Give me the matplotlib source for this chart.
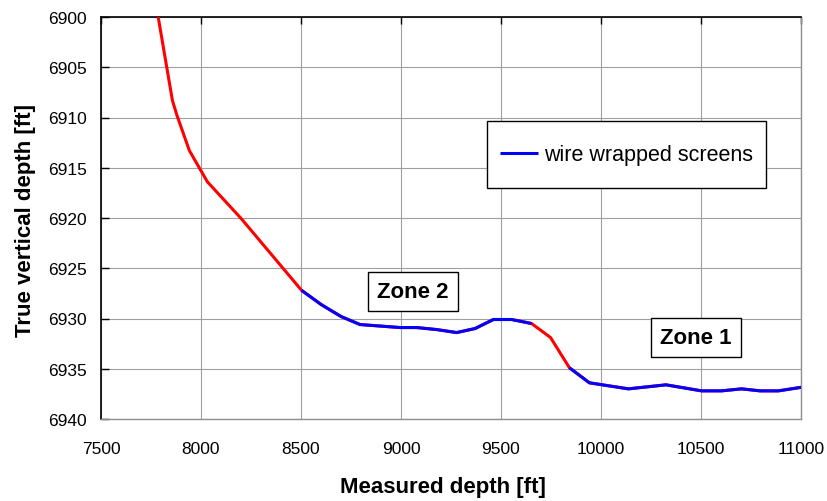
"""Well trajectory: true vertical depth vs measured depth with screened intervals."""

from __future__ import annotations

import matplotlib

matplotlib.use("Agg")

import matplotlib.pyplot as plt
import numpy as np
from matplotlib.patches import Rectangle

# survey stations
measured_depth = [7786, 7857, 7880, 7942, 8032, 8203, 8503, 8600, 8700, 8795,
                  8995, 9078, 9178, 9278, 9370, 9462, 9553, 9653, 9748, 9842,
                  9942, 10137, 10325, 10503, 10603, 10703, 10795, 10887, 11000]
true_vertical_depth = [6900.0, 6908.3, 6909.8, 6913.3, 6916.4, 6920.1, 6927.2,
                       6928.6, 6929.8, 6930.6, 6930.9, 6930.9, 6931.1, 6931.4,
                       6931.0, 6930.1, 6930.1, 6930.5, 6931.9, 6934.9, 6936.4,
                       6937.0, 6936.6, 6937.2, 6937.2, 6937.0, 6937.2, 6937.2,
                       6936.85]

# wire wrapped screen intervals (measured depth)
screen_top = [8503, 9842]
screen_bottom = [9653, 11000]

zone_names = ["Zone 2", "Zone 1"]
zone_md = [9060, 10475]
zone_tvd = [6927.3, 6931.9]

x_ticks = [7500, 8000, 8500, 9000, 9500, 10000, 10500, 11000]
y_ticks = [6900, 6905, 6910, 6915, 6920, 6925, 6930, 6935, 6940]

plt.rcParams["font.family"] = ["Liberation Sans", "DejaVu Sans"]


def plot_trajectory(save: str = "out.png") -> None:
    """Draw the trajectory in red and overlay the screened sections in blue."""
    fig = plt.figure(figsize=(8.28, 5.02), dpi=100)
    ax = fig.add_axes([101 / 828, 82 / 502, 700 / 828, 402 / 502])

    md = np.asarray(measured_depth, dtype=float)
    tvd = np.asarray(true_vertical_depth, dtype=float)

    ax.plot(md, tvd, color="#FF0000", lw=2.2, solid_capstyle="butt", zorder=3)
    for i, (top, bottom) in enumerate(zip(screen_top, screen_bottom, strict=True)):
        mask = (md >= top) & (md <= bottom)
        ax.plot(md[mask], tvd[mask], color="#0000FF", lw=2.2,
                solid_capstyle="butt", zorder=4,
                label="wire wrapped screens" if i == 0 else None)

    for name, x, y in zip(zone_names, zone_md, zone_tvd, strict=True):
        ax.text(x, y, name, ha="center", va="center", fontsize=16,
                fontweight="bold", zorder=5,
                bbox=dict(boxstyle="square,pad=0.4", fc="white", ec="black", lw=1.0))

    ax.set_xlim(7500, 11000)
    ax.set_ylim(6940, 6900)
    ax.set_xticks(x_ticks)
    ax.set_yticks(y_ticks)
    ax.grid(True, color="#A0A0A0", lw=0.8)
    ax.set_axisbelow(True)

    ax.tick_params(axis="x", top=True, bottom=False, labeltop=False,
                   labelbottom=True, direction="in", length=5, width=1.0,
                   labelsize=12.5, pad=16)
    ax.tick_params(axis="y", direction="in", length=6, width=1.0,
                   labelsize=12.5, pad=10)
    for side in ("top", "left"):
        ax.spines[side].set_color("black")
        ax.spines[side].set_linewidth(1.2)
    for side in ("bottom", "right"):
        ax.spines[side].set_color("#909090")
        ax.spines[side].set_linewidth(1.0)

    ax.set_xlabel("Measured depth [ft]", fontsize=16, fontweight="bold")
    ax.set_ylabel("True vertical depth [ft]", fontsize=16, fontweight="bold")
    ax.xaxis.set_label_coords(0.488, -0.142)
    ax.yaxis.set_label_coords(-0.093, 0.4975)

    # legend frame drawn by hand: Excel pads it more vertically than sideways
    ax.add_patch(Rectangle((0.551, 0.5746), 0.3985, 0.1659, transform=ax.transAxes,
                           fc="white", ec="black", lw=1.0, zorder=6))
    ax.legend(loc="center", bbox_to_anchor=(0.7503, 0.6576), frameon=False,
              fontsize=15.5, handlelength=1.8, handletextpad=0.25).set_zorder(7)

    fig.savefig(save, dpi=100)
    plt.close(fig)


if __name__ == "__main__":
    plot_trajectory()
